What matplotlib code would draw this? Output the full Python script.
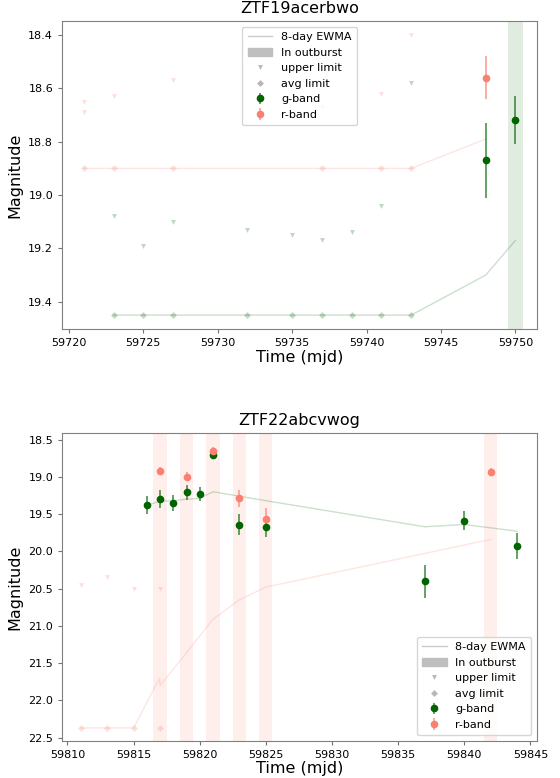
import matplotlib
matplotlib.use("Agg")
import matplotlib.pyplot as plt
from matplotlib.lines import Line2D
from matplotlib.patches import Patch

# ---- ZTF19acerbwo ----
a_name = "ZTF19acerbwo"
a_g_ul_t = [59723, 59725, 59727, 59732, 59735, 59737, 59739, 59741, 59743]
a_g_ul_m = [19.08, 19.19, 19.10, 19.13, 19.15, 19.17, 19.14, 19.04, 18.58]
a_r_ul_t = [59721, 59721, 59723, 59727, 59737, 59741, 59743]
a_r_ul_m = [18.65, 18.69, 18.63, 18.57, 18.67, 18.62, 18.40]
a_g_avg_t = [59723, 59725, 59727, 59732, 59735, 59737, 59739, 59741, 59743]
a_g_avg_m = [19.45, 19.45, 19.45, 19.45, 19.45, 19.45, 19.45, 19.45, 19.45]
a_r_avg_t = [59721, 59723, 59727, 59737, 59741, 59743]
a_r_avg_m = [18.90, 18.90, 18.90, 18.90, 18.90, 18.90]
a_g_t = [59748, 59750]
a_g_m = [18.87, 18.72]
a_g_e = [0.14, 0.09]
a_r_t = [59748]
a_r_m = [18.56]
a_r_e = [0.08]
a_g_ewma_t = [59723, 59725, 59727, 59732, 59735, 59737, 59739, 59741, 59743, 59748, 59750]
a_g_ewma_m = [19.45, 19.45, 19.45, 19.45, 19.45, 19.45, 19.45, 19.45, 19.45, 19.30, 19.17]
a_r_ewma_t = [59721, 59723, 59727, 59737, 59741, 59743, 59748]
a_r_ewma_m = [18.90, 18.90, 18.90, 18.90, 18.90, 18.90, 18.79]
a_g_out = [59750]
a_r_out = []

# ---- ZTF22abcvwog ----
b_name = "ZTF22abcvwog"
b_g_ul_t = []
b_g_ul_m = []
b_r_ul_t = [59811, 59813, 59815, 59817]
b_r_ul_m = [20.45, 20.34, 20.50, 20.51]
b_g_avg_t = []
b_g_avg_m = []
b_r_avg_t = [59811, 59813, 59815, 59817]
b_r_avg_m = [22.37, 22.37, 22.37, 22.37]
b_g_t = [59816, 59817, 59818, 59819, 59820, 59821, 59823, 59825, 59837, 59840, 59844]
b_g_m = [19.38, 19.30, 19.35, 19.21, 19.23, 18.71, 19.64, 19.67, 20.40, 19.59, 19.93]
b_g_e = [0.12, 0.12, 0.11, 0.10, 0.10, 0.04, 0.14, 0.14, 0.22, 0.13, 0.17]
b_r_t = [59817, 59819, 59821, 59823, 59825, 59842]
b_r_m = [18.92, 19.00, 18.65, 19.29, 19.57, 18.93]
b_r_e = [0.05, 0.06, 0.05, 0.11, 0.15, 0.05]
b_g_ewma_t = [59816, 59817, 59818, 59819, 59820, 59821, 59823, 59825, 59837, 59840, 59844]
b_g_ewma_m = [19.38, 19.33, 19.32, 19.30, 19.29, 19.20, 19.26, 19.32, 19.67, 19.64, 19.73]
b_r_ewma_t = [59811, 59813, 59815, 59816.97, 59817, 59819, 59821, 59823, 59825, 59842]
b_r_ewma_m = [22.37, 22.37, 22.37, 21.70, 21.80, 21.36, 20.91, 20.65, 20.48, 19.84]
b_g_out = []
b_r_out = [59817, 59819, 59821, 59823, 59825, 59842]

G = "darkgreen"
R = "salmon"


def panel(ax, d, xlim, ylim, xticks, yticks, legend_loc):
    for band, c in (("g", G), ("r", R)):
        for t in d[band + "_out"]:
            ax.axvspan(t - 0.5, t + 0.5, color=c, alpha=0.12, lw=0)
        ax.plot(d[band + "_ewma_t"], d[band + "_ewma_m"], "-", color=c, alpha=0.2, lw=1)
        ax.plot(d[band + "_ul_t"], d[band + "_ul_m"], "v", color=c, alpha=0.25, ms=3.5, mew=0)
        ax.plot(d[band + "_avg_t"], d[band + "_avg_m"], "D", color=c, alpha=0.25, ms=3.5, mew=0)
    eg = ax.errorbar(d["g_t"], d["g_m"], yerr=d["g_e"], fmt="o", color=G, ms=4.5,
                     ecolor=(0.0, 0.39, 0.0, 0.65), elinewidth=1.3, label="g-band")
    er = ax.errorbar(d["r_t"], d["r_m"], yerr=d["r_e"], fmt="o", color=R, ms=4.5,
                     ecolor=(0.98, 0.5, 0.45, 0.7), elinewidth=1.3, label="r-band")
    ax.set_xlim(*xlim)
    ax.set_ylim(*ylim)
    ax.set_xticks(xticks)
    ax.set_yticks(yticks)
    ax.tick_params(labelsize=8, color="0.45", length=3)
    for s in ax.spines.values():
        s.set_color("0.5")
    ax.set_title(d["name"], fontsize=11.5)
    ax.set_xlabel("Time (mjd)", fontsize=11.5, labelpad=1)
    ax.set_ylabel("Magnitude", fontsize=11.5)
    handles = [
        Line2D([], [], color="0.6", alpha=0.5, lw=1),
        Patch(color="0.75"),
        Line2D([], [], ls="", marker="v", color="0.6", alpha=0.7, ms=3.5, mew=0),
        Line2D([], [], ls="", marker="D", color="0.6", alpha=0.7, ms=3.5, mew=0),
        eg, er,
    ]
    labels = ["8-day EWMA", "In outburst", "upper limit", "avg limit", "g-band", "r-band"]
    ax.legend(handles, labels, loc=legend_loc, fontsize=8, handlelength=2.2,
              labelspacing=0.5, borderpad=0.5)


fig = plt.figure(figsize=(5.6, 7.78), dpi=100)
ax1 = fig.add_axes([0.111, 0.577, 0.848, 0.396])
ax2 = fig.add_axes([0.111, 0.0476, 0.848, 0.396])

da = {"name": a_name, "g_ul_t": a_g_ul_t, "g_ul_m": a_g_ul_m, "r_ul_t": a_r_ul_t, "r_ul_m": a_r_ul_m,
      "g_avg_t": a_g_avg_t, "g_avg_m": a_g_avg_m, "r_avg_t": a_r_avg_t, "r_avg_m": a_r_avg_m,
      "g_t": a_g_t, "g_m": a_g_m, "g_e": a_g_e, "r_t": a_r_t, "r_m": a_r_m, "r_e": a_r_e,
      "g_ewma_t": a_g_ewma_t, "g_ewma_m": a_g_ewma_m, "r_ewma_t": a_r_ewma_t, "r_ewma_m": a_r_ewma_m,
      "g_out": a_g_out, "r_out": a_r_out}
db = {"name": b_name, "g_ul_t": b_g_ul_t, "g_ul_m": b_g_ul_m, "r_ul_t": b_r_ul_t, "r_ul_m": b_r_ul_m,
      "g_avg_t": b_g_avg_t, "g_avg_m": b_g_avg_m, "r_avg_t": b_r_avg_t, "r_avg_m": b_r_avg_m,
      "g_t": b_g_t, "g_m": b_g_m, "g_e": b_g_e, "r_t": b_r_t, "r_m": b_r_m, "r_e": b_r_e,
      "g_ewma_t": b_g_ewma_t, "g_ewma_m": b_g_ewma_m, "r_ewma_t": b_r_ewma_t, "r_ewma_m": b_r_ewma_m,
      "g_out": b_g_out, "r_out": b_r_out}

panel(ax1, da, (59719.55, 59751.45), (19.5025, 18.3475),
      [59720, 59725, 59730, 59735, 59740, 59745, 59750],
      [18.4, 18.6, 18.8, 19.0, 19.2, 19.4], "upper center")
panel(ax2, db, (59809.6, 59845.5), (22.545, 18.41),
      [59810, 59815, 59820, 59825, 59830, 59835, 59840, 59845],
      [18.5, 19.0, 19.5, 20.0, 20.5, 21.0, 21.5, 22.0, 22.5], "lower right")

fig.savefig("out.png", dpi=100)
